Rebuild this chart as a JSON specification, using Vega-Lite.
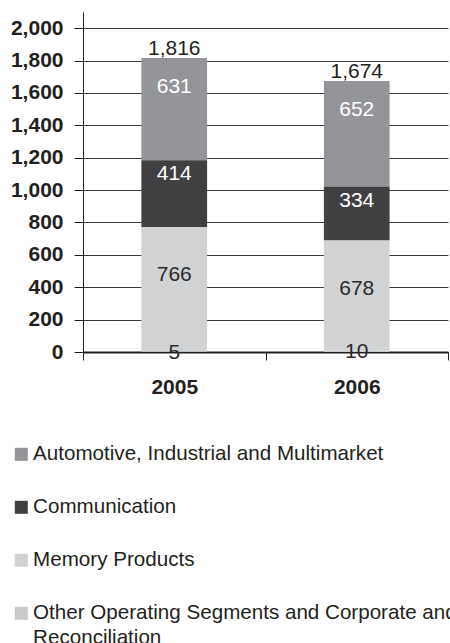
{
  "$schema": "https://vega.github.io/schema/vega-lite/v6.json",
  "autosize": "none",
  "width": 365,
  "height": 340,
  "padding": {"left": 83, "top": 12, "right": 2, "bottom": 291},
  "background": "white",
  "config": {
    "view": {"stroke": null},
    "font": "Liberation Sans",
    "text": {"font": "Liberation Sans"},
    "axisY": {
      "grid": true, "gridColor": "#3a3a3a", "gridWidth": 1, "gridOpacity": 1, "labelOverlap": false,
      "tickCount": 10, "format": ",d",
      "labelFont": "Liberation Sans", "labelFontSize": 21, "labelFontWeight": "bold",
      "labelColor": "#231f20", "labelPadding": 11, "tickSize": 9, "tickColor": "#231f20",
      "domainColor": "#231f20"
    },
    "axisX": {
      "grid": false, "tickBand": "extent", "labelAngle": 0, "labelFont": "Liberation Sans", "labelFontSize": 21,
      "labelFontWeight": "bold", "labelColor": "#231f20", "labelPadding": 16, "tickSize": 8,
      "tickColor": "#231f20", "domainColor": "#231f20", "domainWidth": 2, "zindex": 1
    }
  },
  "data": {"values": [
    {"year": "2005", "segment": "Automotive, Industrial and Multimarket", "value": 631},
    {"year": "2005", "segment": "Communication", "value": 414},
    {"year": "2005", "segment": "Memory Products", "value": 766},
    {"year": "2005", "segment": "Other Operating Segments and Corporate and Reconciliation", "value": 5},
    {"year": "2006", "segment": "Automotive, Industrial and Multimarket", "value": 652},
    {"year": "2006", "segment": "Communication", "value": 334},
    {"year": "2006", "segment": "Memory Products", "value": 678},
    {"year": "2006", "segment": "Other Operating Segments and Corporate and Reconciliation", "value": 10}
  ]},
  "encoding": {
    "x": {
      "field": "year", "type": "nominal", "title": null,
      "scale": {"paddingInner": 0, "paddingOuter": 0}
    }
  },
  "layer": [
    {
      "mark": {"type": "bar", "width": {"band": 0.36}},
      "encoding": {
        "y": {
          "field": "value", "type": "quantitative", "stack": "zero", "title": null,
          "scale": {"domain": [0, 2100], "nice": false}
        },
        "color": {
          "field": "segment", "type": "nominal",
          "scale": {
            "domain": ["Automotive, Industrial and Multimarket", "Communication", "Memory Products", "Other Operating Segments and Corporate and Reconciliation"],
            "range": ["#939598", "#404042", "#d1d2d4", "#c8c9cb"]
          },
          "legend": {
            "title": null, "orient": "none", "legendX": -72, "legendY": 432, "direction": "vertical",
            "symbolType": "square", "symbolSize": 169, "symbolStrokeWidth": 0, "symbolOpacity": 1,
            "labelFont": "Liberation Sans", "labelFontSize": 20.6, "labelColor": "#231f20",
            "labelOffset": 1.5, "rowPadding": 32, "labelLimit": 1000, "padding": 0,
            "labelExpr": "datum.label == 'Other Operating Segments and Corporate and Reconciliation' ? ['Other Operating Segments and Corporate and', 'Reconciliation'] : datum.label",
            "encode": {"labels": {"update": {"lineHeight": {"value": 25}}}}
          }
        },
        "order": {"field": "segment", "type": "nominal", "sort": "descending"}
      }
    },
    {
      "mark": {"type": "text", "fontSize": 21, "baseline": "middle", "dy": 29, "color": "white"},
      "encoding": {
        "y": {"field": "value", "type": "quantitative", "stack": "zero", "title": null},
        "detail": {"field": "segment", "type": "nominal"},
        "order": {"field": "segment", "type": "nominal", "sort": "descending"},
        "text": {"field": "value", "type": "quantitative"},
        "opacity": {"condition": {"test": "datum.segment == 'Automotive, Industrial and Multimarket'", "value": 1}, "value": 0}
      }
    },
    {
      "mark": {"type": "text", "fontSize": 21, "baseline": "middle", "dy": 14, "color": "white"},
      "encoding": {
        "y": {"field": "value", "type": "quantitative", "stack": "zero", "title": null},
        "detail": {"field": "segment", "type": "nominal"},
        "order": {"field": "segment", "type": "nominal", "sort": "descending"},
        "text": {"field": "value", "type": "quantitative"},
        "opacity": {"condition": {"test": "datum.segment == 'Communication'", "value": 1}, "value": 0}
      }
    },
    {
      "mark": {"type": "text", "fontSize": 21, "baseline": "middle", "dy": 48, "color": "#2b2b2b"},
      "encoding": {
        "y": {"field": "value", "type": "quantitative", "stack": "zero", "title": null},
        "detail": {"field": "segment", "type": "nominal"},
        "order": {"field": "segment", "type": "nominal", "sort": "descending"},
        "text": {"field": "value", "type": "quantitative"},
        "opacity": {"condition": {"test": "datum.segment == 'Memory Products'", "value": 1}, "value": 0}
      }
    },
    {
      "mark": {"type": "text", "fontSize": 21, "baseline": "middle", "dy": 2, "color": "#2b2b2b"},
      "encoding": {
        "y": {"field": "value", "type": "quantitative", "stack": "zero", "title": null},
        "detail": {"field": "segment", "type": "nominal"},
        "order": {"field": "segment", "type": "nominal", "sort": "descending"},
        "text": {"field": "value", "type": "quantitative"},
        "opacity": {"condition": {"test": "datum.segment == 'Other Operating Segments and Corporate and Reconciliation'", "value": 1}, "value": 0}
      }
    },
    {
      "mark": {"type": "text", "fontSize": 21, "baseline": "alphabetic", "dy": -3, "color": "#231f20"},
      "encoding": {
        "y": {"aggregate": "sum", "field": "value", "type": "quantitative", "title": null},
        "text": {"aggregate": "sum", "field": "value", "type": "quantitative", "format": ",d"}
      }
    }
  ]
}
